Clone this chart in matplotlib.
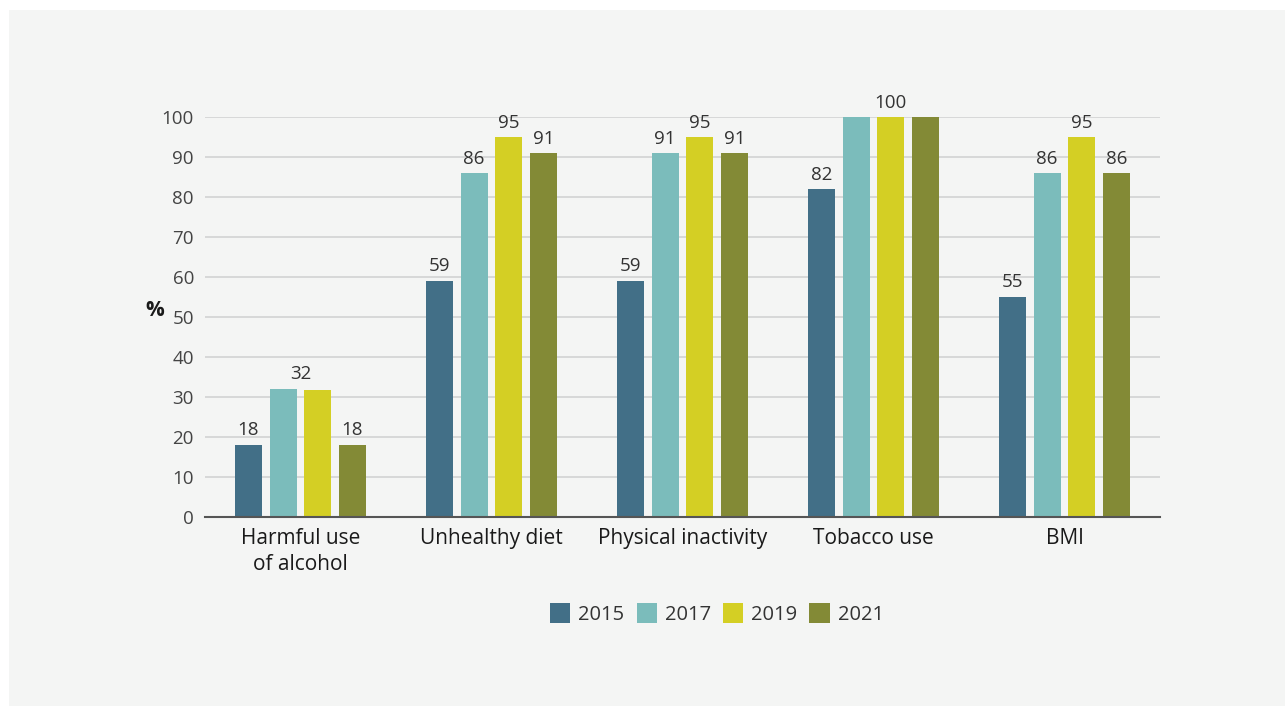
import matplotlib
matplotlib.use("Agg")
import matplotlib.pyplot as plt
from matplotlib.patches import Rectangle, Patch
import numpy as np

plt.rcParams['font.family'] = ['Open Sans', 'DejaVu Sans']

categories = ["Harmful use\nof alcohol", "Unhealthy diet", "Physical inactivity",
              "Tobacco use", "BMI"]
years = ["2015", "2017", "2019", "2021"]
values_2015 = [18, 59, 59, 82, 55]
values_2017 = [32, 86, 91, 100, 86]
values_2019 = [31.6, 95, 95, 100, 95]
values_2021 = [18, 91, 91, 100, 86]
colors = ["#426f87", "#7bbcbb", "#d4cf24", "#838a36"]

# Value labels: (category index, series index, text); a None series index
# centres the label between the 2017 and 2019 bars.
labels = [
    (0, 0, "18"), (0, None, "32"), (0, 3, "18"),
    (1, 0, "59"), (1, 1, "86"), (1, 2, "95"), (1, 3, "91"),
    (2, 0, "59"), (2, 1, "91"), (2, 2, "95"), (2, 3, "91"),
    (3, 0, "82"), (3, 2, "100"),
    (4, 0, "55"), (4, 1, "86"), (4, 2, "95"), (4, 3, "86"),
]

series = [values_2015, values_2017, values_2019, values_2021]

W, H = 1285, 706
fig = plt.figure(figsize=(W / 100, H / 100), dpi=100)
fig.patch.set_facecolor("white")
fig.add_artist(Rectangle((9 / W, 0), 1 - 9 / W, 1 - 10 / H, transform=fig.transFigure,
                         facecolor="#f4f5f4", edgecolor="none", zorder=-10))

ax = fig.add_axes([205 / W, 1 - 516.7 / H, 955 / W, 399.4 / H])
ax.set_facecolor("none")

x = np.arange(len(categories))
width = 0.142
step = 0.1815
offsets = [-1.5 * step, -0.5 * step, 0.5 * step, 1.5 * step]

for vals, off, col, yr in zip(series, offsets, colors, years):
    ax.bar(x + off, vals, width=width, color=col, label=yr, zorder=3)

for ci, si, txt in labels:
    if si is None:
        xp = ci + (offsets[1] + offsets[2]) / 2
        yv = max(series[1][ci], series[2][ci])
    else:
        xp = ci + offsets[si]
        yv = series[si][ci]
    ax.annotate(txt, (xp, yv), xytext=(0, 4), textcoords="offset points",
                ha="center", va="bottom", fontsize=13.5, color="#333333",
                clip_on=False)

ax.set_xlim(-0.5, len(categories) - 0.5)
ax.set_ylim(0, 100)
ax.set_yticks(np.arange(0, 101, 10))
ax.set_xticks(x)
ax.set_xticklabels(categories, fontsize=15, color="#1a1a1a", linespacing=1.35)
ax.tick_params(axis="y", length=0, pad=8, labelsize=13.5, labelcolor="#444444")
ax.tick_params(axis="x", length=0, pad=8)
ax.grid(axis="y", color="#cfd0d0", linewidth=1.1, zorder=0)
for s in ["top", "right", "left"]:
    ax.spines[s].set_visible(False)
ax.spines["bottom"].set_color("#555555")
ax.spines["bottom"].set_linewidth(1.5)
ax.spines["bottom"].set_zorder(4)

ax.text(-50 / 955, (516.7 - 310) / 399.4, "%", transform=ax.transAxes, fontsize=15,
        fontweight="bold", ha="center", va="center", color="#1a1a1a")

handles = [Patch(facecolor=c, edgecolor="none") for c in colors]
fig.legend(handles, years, loc="center", bbox_to_anchor=(717 / W, 1 - 614 / H),
           ncol=4, frameon=False, fontsize=14.5, handlelength=1.0,
           handleheight=1.1, handletextpad=0.4, columnspacing=0.6,
           labelcolor="#333333")

fig.savefig("out.png", dpi=100)
